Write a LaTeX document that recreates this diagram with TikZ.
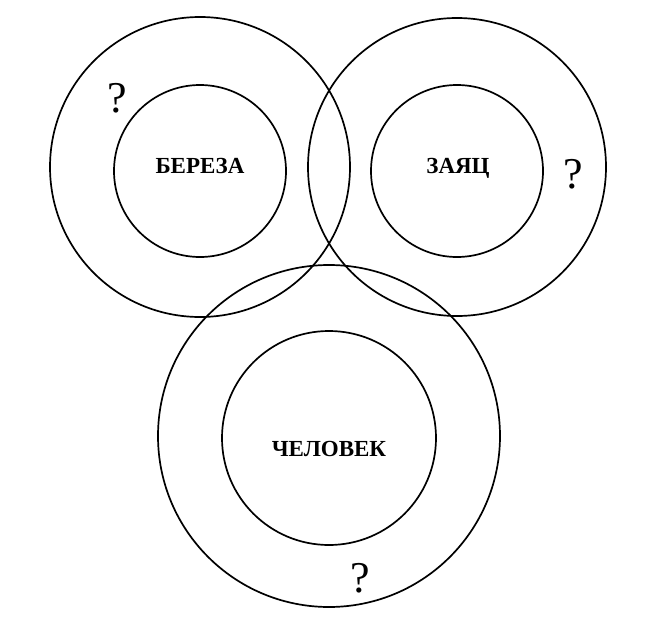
\documentclass[tikz,border=0pt]{standalone}
\usepackage{fontspec}
\setmainfont{Liberation Serif}
\usetikzlibrary{positioning}

\tikzstyle{outer} = [circle, draw=black, line width=1.7pt, minimum size=300pt, inner sep=0pt]
\tikzstyle{inner} = [circle, draw=black, line width=1.7pt, minimum size=172pt, inner sep=0pt]
\tikzstyle{word} = [anchor=base, inner sep=0pt, font=\fontsize{23}{23}\selectfont\bfseries]
\tikzstyle{ask} = [anchor=base, inner sep=0pt, font=\fontsize{44}{44}\selectfont]

\begin{document}
\begin{tikzpicture}[x=1pt, y=-1pt, node distance=257pt]

    \useasboundingbox (0,0) rectangle (650,618);

    % Outer circles
    \node (birch_out) [outer] at (200,167) {};
    \node (hare_out) [outer, minimum size=298pt, right of=birch_out] {};
    \node (man_out) [outer, minimum size=342pt] at (329,436) {};

    % Inner circles
    \node (birch_in) [inner] at (200,171) {};
    \node (hare_in) [inner, right of=birch_in] {};
    \node (man_in) [inner, minimum size=214pt] at (329,438) {};

    % Words
    \node (birch) [word] at (200,173) {БЕРЕЗА};
    \node (hare) [word] at (458,173) {ЗАЯЦ};
    \node (man) [word] at (329,456) {ЧЕЛОВЕК};

    % Questions
    \node (ask_birch) [ask] at (117,112) {?};
    \node (ask_hare) [ask] at (573,188) {?};
    \node (ask_man) [ask] at (360,592) {?};

\end{tikzpicture}
\end{document}
